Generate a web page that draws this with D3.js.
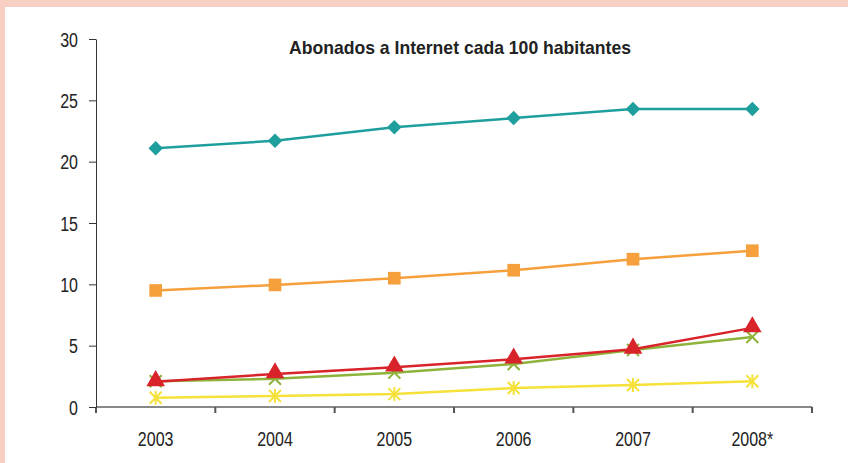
<!DOCTYPE html>
<html>
<meta charset="utf-8">
<style>
  body { margin: 0; background: #fff; }
  text { font-family: "Liberation Sans", Arial, sans-serif; fill: #222; }
  .axis path, .axis line { stroke: #888; stroke-width: 2; }
  .yaxis path, .yaxis line { stroke: #333; stroke-width: 1; }
</style>
<body>
<script src="https://d3js.org/d3.v7.min.js"></script>
<script>
  let width = 848, height = 463;
  let margin = { top: 39, right: 36, bottom: 56, left: 96 };
  let squeeze = 0.8; // narrow face look

  let years = ["2003", "2004", "2005", "2006", "2007", "2008*"];
  let yTicks = [0, 5, 10, 15, 20, 25, 30];

  let teal = [21.1, 21.7, 22.8, 23.55, 24.3, 24.3];
  let orange = [9.5, 9.95, 10.5, 11.15, 12.05, 12.74];
  let red = [2.05, 2.7, 3.25, 3.9, 4.7, 6.45];
  let green = [2.1, 2.3, 2.8, 3.5, 4.65, 5.7];
  let yellow = [0.75, 0.9, 1.05, 1.55, 1.8, 2.1];

  let series = [
    { values: teal, color: "#1f9e9e", kind: "diamond" },
    { values: orange, color: "#f5a03c", kind: "square" },
    { values: green, color: "#8db33a", kind: "x" },
    { values: red, color: "#d8232a", kind: "triangle" },
    { values: yellow, color: "#f5e13a", kind: "star" }
  ];

  let svg = d3.select("body").append("svg")
    .attr("width", width)
    .attr("height", height);

  // peach frame
  svg.append("rect").attr("x", 0).attr("y", 0).attr("width", width).attr("height", 7).attr("fill", "#f7d0c3");
  svg.append("rect").attr("x", 0).attr("y", 0).attr("width", 5).attr("height", height).attr("fill", "#f7d0c3");

  let x = d3.scaleBand().domain(years).range([margin.left, width - margin.right]);
  let y = d3.scaleLinear().domain([0, 30]).range([height - margin.bottom, margin.top]);

  svg.append("g")
    .attr("class", "axis")
    .attr("transform", `translate(0,${y(0)})`)
    .call(d3.axisBottom(x).tickSize(0).tickSizeOuter(0))
    .call(g => g.select(".domain").attr("d", `M${margin.left},0H${width - margin.right}`))
    .call(g => g.selectAll(".tick text")
      .attr("y", 39).attr("dy", 0)
      .attr("transform", `scale(${squeeze},1)`)
      .style("font-size", "20px"));

  // ticks between categories
  let bounds = years.map(d => x(d)).concat([width - margin.right]);
  svg.append("g").selectAll("line")
    .data(bounds)
    .join("line")
    .attr("x1", d => d).attr("x2", d => d)
    .attr("y1", y(0)).attr("y2", y(0) + 6)
    .attr("stroke", "#555").attr("stroke-width", 2);

  svg.append("g")
    .attr("class", "axis yaxis")
    .attr("transform", `translate(${margin.left},0)`)
    .call(d3.axisLeft(y).tickValues(yTicks).tickSize(7).tickSizeOuter(0))
    .call(g => g.selectAll(".tick text")
      .attr("x", -18 / squeeze)
      .attr("dy", "0.36em")
      .attr("transform", `scale(${squeeze},1)`)
      .style("font-size", "20px"));

  svg.append("text")
    .attr("x", 460).attr("y", 54)
    .attr("text-anchor", "middle")
    .attr("textLength", 342)
    .attr("lengthAdjust", "spacingAndGlyphs")
    .style("font-size", "19px")
    .style("font-weight", "bold")
    .text("Abonados a Internet cada 100 habitantes");

  let cx = (d, i) => x(years[i]) + x.bandwidth() / 2;
  let line = d3.line().x(cx).y(d => y(d));

  series.forEach(s => {
    svg.append("path")
      .datum(s.values)
      .attr("fill", "none")
      .attr("stroke", s.color)
      .attr("stroke-width", 2.5)
      .attr("d", line);
  });

  series.forEach(s => {
    let g = svg.append("g").selectAll("g")
      .data(s.values)
      .join("g")
      .attr("transform", (d, i) => `translate(${cx(d, i)},${y(d)})`);
    if (s.kind === "diamond") {
      g.append("path")
        .attr("d", d3.symbol().type(d3.symbolSquare).size(105))
        .attr("transform", "rotate(45)")
        .attr("fill", s.color);
    } else if (s.kind === "square") {
      g.append("path")
        .attr("d", d3.symbol().type(d3.symbolSquare).size(160))
        .attr("fill", s.color);
    } else if (s.kind === "triangle") {
      g.append("path")
        .attr("d", d3.symbol().type(d3.symbolTriangle).size(150))
        .attr("transform", "translate(0,-1)")
        .attr("fill", s.color);
    } else if (s.kind === "x") {
      g.append("path")
        .attr("d", "M-6,-6L6,6M-6,6L6,-6")
        .attr("stroke", s.color).attr("stroke-width", 2);
    } else {
      g.append("path")
        .attr("d", "M-6,-6L6,6M-6,6L6,-6M0,-7V7")
        .attr("stroke", s.color).attr("stroke-width", 2);
    }
  });
</script>
</body>
</html>
